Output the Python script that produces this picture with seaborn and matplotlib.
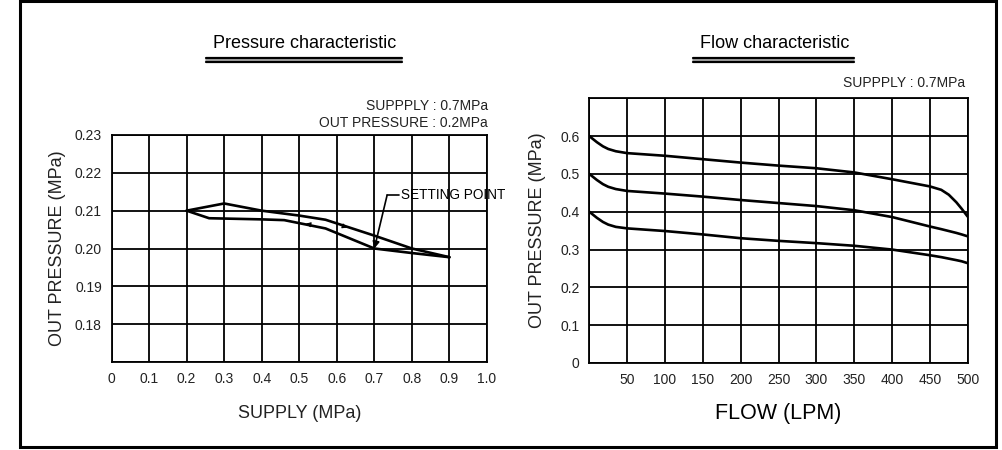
import matplotlib
matplotlib.use("Agg")
import matplotlib.pyplot as plt
import seaborn as sns
import pandas as pd
from matplotlib.lines import Line2D
from matplotlib.patches import Rectangle

# ---------------- data ----------------
supply_up = [0.2, 0.3, 0.4, 0.5, 0.57, 0.7, 0.8, 0.9]
out_up = [0.2100, 0.2119, 0.2100, 0.2087, 0.2076, 0.2034, 0.2000, 0.1977]
supply_down = [0.9, 0.8, 0.7, 0.57, 0.46, 0.4, 0.26, 0.2]
out_down = [0.1977, 0.1988, 0.2000, 0.2053, 0.2075, 0.2077, 0.2080, 0.2100]

flow = [0, 5, 10, 18, 25, 35, 50, 100, 150, 200, 250, 300, 350, 400, 450, 465, 475, 485, 492, 500]
set_06 = [0.600, 0.592, 0.584, 0.573, 0.566, 0.560, 0.555, 0.548, 0.539, 0.530, 0.522, 0.515, 0.504, 0.486, 0.467, 0.458, 0.445, 0.425, 0.408, 0.387]
set_05 = [0.500, 0.492, 0.484, 0.473, 0.466, 0.460, 0.455, 0.448, 0.440, 0.431, 0.423, 0.415, 0.404, 0.386, 0.361, 0.354, 0.349, 0.344, 0.340, 0.335]
set_04 = [0.400, 0.392, 0.384, 0.373, 0.366, 0.360, 0.356, 0.349, 0.340, 0.330, 0.323, 0.317, 0.310, 0.300, 0.285, 0.280, 0.276, 0.272, 0.269, 0.264]

p_xticks = [0, 0.1, 0.2, 0.3, 0.4, 0.5, 0.6, 0.7, 0.8, 0.9, 1.0]
p_xlabels = ["0", "0.1", "0.2", "0.3", "0.4", "0.5", "0.6", "0.7", "0.8", "0.9", "1.0"]
p_yticks = [0.17, 0.18, 0.19, 0.20, 0.21, 0.22, 0.23]
p_ylabels = ["", "0.18", "0.19", "0.20", "0.21", "0.22", "0.23"]
f_xticks = [0, 50, 100, 150, 200, 250, 300, 350, 400, 450, 500]
f_xlabels = ["", "50", "100", "150", "200", "250", "300", "350", "400", "450", "500"]
f_yticks = [0, 0.1, 0.2, 0.3, 0.4, 0.5, 0.6, 0.7]
f_ylabels = ["0", "0.1", "0.2", "0.3", "0.4", "0.5", "0.6", ""]

# direction arrows on hysteresis loop (x0, y0, x1, y1)
dir_arrows = [(0.61, 0.20615, 0.635, 0.2053), (0.535, 0.2062, 0.51, 0.2067)]
setting_xy = (0.7, 0.2000)
setting_text_xy = (0.77, 0.2141)
setting_corner = (0.734, 0.2141)

# ---------------- style ----------------
sns.set_theme(style="white")
FONT = ['Liberation Sans', 'DejaVu Sans']
plt.rcParams['font.family'] = FONT

W, H = 1002, 450
fig = plt.figure(figsize=(W / 100, H / 100), dpi=100)

def px(x0, y0, x1, y1):
    return [x0 / W, 1 - y1 / H, (x1 - x0) / W, (y1 - y0) / H]

ax1 = fig.add_axes(px(111.5, 135, 487, 362))
ax2 = fig.add_axes(px(589.3, 98.3, 967.7, 363))

TXT = "#222222"
lw_grid = 1.3
for ax in (ax1, ax2):
    for s in ax.spines.values():
        s.set_color("black")
        s.set_linewidth(lw_grid)
    ax.grid(True, color="black", linewidth=lw_grid)
    ax.set_axisbelow(True)
    ax.tick_params(length=0, labelsize=10, colors=TXT, pad=7)

# ---- Pressure characteristic ----
df_p = pd.concat([
    pd.DataFrame({"supply": supply_up, "out": out_up, "branch": "up"}),
    pd.DataFrame({"supply": supply_down, "out": out_down, "branch": "down"}),
])
for br in ["up", "down"]:
    sns.lineplot(data=df_p[df_p.branch == br], x="supply", y="out", sort=False,
                 ax=ax1, color="black", linewidth=1.9, estimator=None)
ax1.set_xlim(0, 1.0)
ax1.set_ylim(0.17, 0.23)
ax1.set_xticks(p_xticks)
ax1.set_xticklabels(p_xlabels)
ax1.set_yticks(p_yticks)
ax1.set_yticklabels(p_ylabels)
ax1.set_xlabel("SUPPLY (MPa)", fontsize=13, color=TXT, labelpad=14)
ax1.set_ylabel("OUT PRESSURE (MPa)", fontsize=13, color=TXT, labelpad=6)

for (x0, y0, x1, y1) in dir_arrows:
    ax1.annotate("", xy=(x1, y1), xytext=(x0, y0),
                 arrowprops=dict(arrowstyle="-|>", color="black", lw=0.8,
                                 mutation_scale=7))

ax1.plot([setting_text_xy[0] - 0.004, setting_corner[0]],
         [setting_corner[1], setting_corner[1]], color="black", lw=1.2)
ax1.annotate("", xy=setting_xy, xytext=setting_corner,
             arrowprops=dict(arrowstyle="-|>", color="black", lw=1.2,
                             mutation_scale=10, shrinkA=0, shrinkB=0))
ax1.text(setting_text_xy[0], setting_text_xy[1], "SETTING POINT",
         fontsize=9.8, va="center", ha="left", color="black")

# ---- Flow characteristic ----
df_f = pd.DataFrame({"flow": flow * 3,
                     "pressure": set_06 + set_05 + set_04,
                     "set": ["0.6"] * len(flow) + ["0.5"] * len(flow) + ["0.4"] * len(flow)})
sns.lineplot(data=df_f, x="flow", y="pressure", units="set", estimator=None,
             ax=ax2, color="black", linewidth=1.9)
ax2.set_xlim(0, 500)
ax2.set_ylim(0, 0.7)
ax2.set_xticks(f_xticks)
ax2.set_xticklabels(f_xlabels)
ax2.set_yticks(f_yticks)
ax2.set_yticklabels(f_ylabels)
ax2.set_xlabel("FLOW (LPM)", fontsize=15.5, color="black", labelpad=12)
ax2.set_ylabel("OUT PRESSURE (MPa)", fontsize=13, color=TXT, labelpad=10)

# ---- titles & notes (figure coords) ----
def fx(x):
    return x / W

def fy(y):
    return 1 - y / H

fig.text(fx(305), fy(44), "Pressure characteristic", fontsize=13,
         ha="center", va="center", color="black")
fig.text(fx(775), fy(44), "Flow characteristic", fontsize=13,
         ha="center", va="center", color="black")
for (a, b) in [(206, 402), (693, 854)]:
    for yy in (57.5, 61.5):
        fig.add_artist(Line2D([fx(a), fx(b)], [fy(yy), fy(yy)], color="black", lw=1.6))
    fig.add_artist(Line2D([fx(a), fx(b)], [fy(59.5), fy(59.5)], color="#888888", lw=1.2))

fig.text(fx(488), fy(106), "SUPPPLY : 0.7MPa", fontsize=10, ha="right", va="center", color=TXT)
fig.text(fx(488), fy(123), "OUT PRESSURE : 0.2MPa", fontsize=10, ha="right", va="center", color=TXT)
fig.text(fx(965), fy(83), "SUPPPLY : 0.7MPa", fontsize=10, ha="right", va="center", color=TXT)

fig.add_artist(Rectangle((fx(20), fy(447)), fx(976), 446 / H, fill=False,
                         edgecolor="black", lw=2.2, transform=fig.transFigure))

fig.savefig("out.png", dpi=100)
